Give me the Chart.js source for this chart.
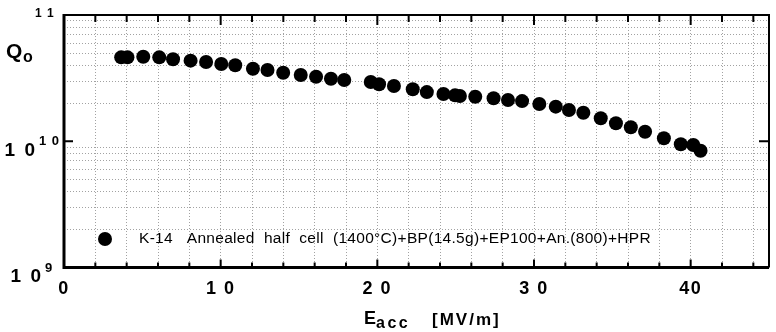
<!DOCTYPE html>
<html>
<head>
<meta charset="utf-8">
<script src="https://cdn.jsdelivr.net/npm/chart.js@4"></script>
<style>
  body { margin: 0; background: #fff; }
  canvas { display: block; }
</style>
</head>
<body>
<canvas id="q-chart" width="776" height="332"></canvas>
<script>
// Q0 vs Eacc data
const eacc = [
  3.65, 4.05, 5.06, 6.08, 6.96, 8.08, 9.07, 10.04, 10.93, 12.06,
  12.99, 13.99, 15.11, 16.09, 17.04, 17.89, 19.58, 20.11, 21.06, 22.26,
  23.16, 24.22, 24.96, 25.27, 26.25, 27.42, 28.34, 29.24, 30.34, 31.39,
  32.23, 33.15, 34.26, 35.23, 36.18, 37.09, 38.29, 39.37, 40.17, 40.63
];
const q0 = [
  4.62e10, 4.62e10, 4.67e10, 4.62e10, 4.46e10, 4.35e10, 4.24e10, 4.09e10, 4.00e10, 3.75e10,
  3.67e10, 3.49e10, 3.35e10, 3.24e10, 3.13e10, 3.06e10, 2.95e10, 2.83e10, 2.74e10, 2.58e10,
  2.45e10, 2.37e10, 2.31e10, 2.28e10, 2.25e10, 2.19e10, 2.12e10, 2.08e10, 1.97e10, 1.88e10,
  1.77e10, 1.68e10, 1.52e10, 1.39e10, 1.29e10, 1.19e10, 1.055e10, 0.946e10, 0.934e10, 0.842e10
];
const seriesLabel = 'K-14   Annealed  half  cell  (1400°C)+BP(14.5g)+EP100+An.(800)+HPR';

// axis ticks
const xMajor = [0, 10, 20, 30, 40];
const xTickLabels = ['0', '1 0', '2 0', '3 0', '40'];
const xGrid = [0, 2, 4, 6, 8, 10, 12, 14, 16, 18, 20, 22, 24, 26, 28, 30, 32, 34, 36, 38, 40, 42, 44];
const yDecades = [1e9, 1e10, 1e11];
const yExpLabels = ['9', '1 0', '1 1'];
const yMinor = [1, 2, 3, 4, 5, 6, 7, 8, 9];

const FONT = '"Liberation Sans", Arial, sans-serif';
const GRID = '#a2a2a2';

const points = eacc.map((x, i) => ({x: x, y: q0[i]}));

function text(ctx, str, x, y, font, align, spacing) {
  ctx.font = font;
  ctx.letterSpacing = (spacing || 0) + 'px';
  ctx.textAlign = align || 'left';
  ctx.textBaseline = 'middle';
  ctx.fillText(str, x, y);
}

// frame, inward ticks, labels and the inside legend
const decorPlugin = {
  id: 'decor',
  afterDraw(chart) {
    const ctx = chart.ctx;
    const xs = chart.scales.x, ys = chart.scales.y;
    const a = chart.chartArea;
    ctx.save();
    ctx.strokeStyle = '#000';
    ctx.fillStyle = '#000';

    // frame
    ctx.lineWidth = 2;
    ctx.beginPath();
    ctx.moveTo(a.left, a.top); ctx.lineTo(a.right, a.top); ctx.lineTo(a.right, a.bottom);
    ctx.stroke();
    ctx.lineWidth = 3;
    ctx.beginPath();
    ctx.moveTo(a.left, a.top - 1); ctx.lineTo(a.left, a.bottom); ctx.lineTo(a.right, a.bottom);
    ctx.stroke();

    // x ticks top and bottom
    ctx.lineWidth = 2;
    xGrid.forEach(v => {
      const px = xs.getPixelForValue(v);
      const len = v % 10 === 0 ? 8 : 5;
      ctx.beginPath();
      ctx.moveTo(px, a.bottom); ctx.lineTo(px, a.bottom - len);
      ctx.moveTo(px, a.top); ctx.lineTo(px, a.top + len + 2);
      ctx.stroke();
    });
    // y tick at 1e10, both sides
    const p10 = ys.getPixelForValue(1e10);
    ctx.beginPath();
    ctx.moveTo(a.left, p10); ctx.lineTo(a.left + 9, p10);
    ctx.moveTo(a.right, p10); ctx.lineTo(a.right - 10, p10);
    ctx.stroke();

    // x tick labels
    xMajor.forEach((v, i) => {
      text(ctx, xTickLabels[i], xs.getPixelForValue(v), 289, 'bold 18px ' + FONT, 'center', 1.5);
    });

    // y tick labels: "1 0" with exponent
    yDecades.forEach((v, i) => {
      const py = ys.getPixelForValue(v);
      if (v === 1e11) {
        text(ctx, yExpLabels[i], 35, py - 1, 'bold 12px ' + FONT, 'left', 1);
        return;
      }
      const right = v === 1e10 ? 37 : 43;
      text(ctx, '1 0', right, py + (v === 1e10 ? 10 : 9), 'bold 19px ' + FONT, 'right', 2);
      text(ctx, yExpLabels[i], right + 2, py + (v === 1e10 ? 0 : 0.5), 'bold 13px ' + FONT, 'left', 1);
    });

    // axis titles
    text(ctx, 'Q', 6, 52, 'bold 21px ' + FONT, 'left', 0);
    text(ctx, 'o', 23, 58, 'bold 16px ' + FONT, 'left', 0);
    text(ctx, 'E', 364, 319, 'bold 18px ' + FONT, 'left', 0);
    text(ctx, 'acc', 376, 324, 'bold 16px ' + FONT, 'left', 2.5);
    text(ctx, '[MV/m]', 432, 320, 'bold 17px ' + FONT, 'left', 2);

    // legend inside the plot
    const ds = chart.data.datasets[0];
    ctx.beginPath();
    ctx.arc(105, 239, ds.pointRadius, 0, Math.PI * 2);
    ctx.fill();
    text(ctx, ds.label, 139, 239, '15.5px ' + FONT, 'left', 0.3);
    ctx.restore();
  }
};

const qChart = new Chart(document.getElementById('q-chart'), {
  type: 'scatter',
  data: {
    datasets: [{
      label: seriesLabel,
      data: points,
      pointRadius: 7,
      pointHoverRadius: 7,
      pointBackgroundColor: '#000',
      pointBorderWidth: 0,
      showLine: false
    }]
  },
  options: {
    responsive: false,
    animation: false,
    layout: { padding: { left: 0, top: 15, right: 1, bottom: 0 } },
    plugins: {
      legend: { display: false },
      tooltip: { enabled: false }
    },
    scales: {
      x: {
        type: 'linear',
        min: 0,
        max: 45,
        afterBuildTicks: scale => { scale.ticks = xGrid.map(v => ({value: v})); },
        afterFit: scale => { scale.height = 64.5; },
        ticks: { display: false },
        grid: { color: GRID, lineWidth: 1, drawTicks: false },
        border: { display: false, dash: [1, 2] }
      },
      y: {
        type: 'logarithmic',
        min: 1e9,
        max: 1e11,
        afterBuildTicks: scale => {
          const t = [];
          yDecades.slice(0, 2).forEach(d => yMinor.forEach(m => t.push({value: d * m})));
          t.push({value: 1e11});
          scale.ticks = t;
        },
        afterFit: scale => { scale.width = 64; },
        ticks: { display: false, autoSkip: false },
        grid: {
          color: ctx => (ctx.tick && yDecades.includes(ctx.tick.value)) ? 'rgba(0,0,0,0)' : GRID,
          lineWidth: 1,
          drawTicks: false
        },
        border: { display: false, dash: [1, 2] }
      }
    }
  },
  plugins: [decorPlugin]
});
</script>
</body>
</html>
